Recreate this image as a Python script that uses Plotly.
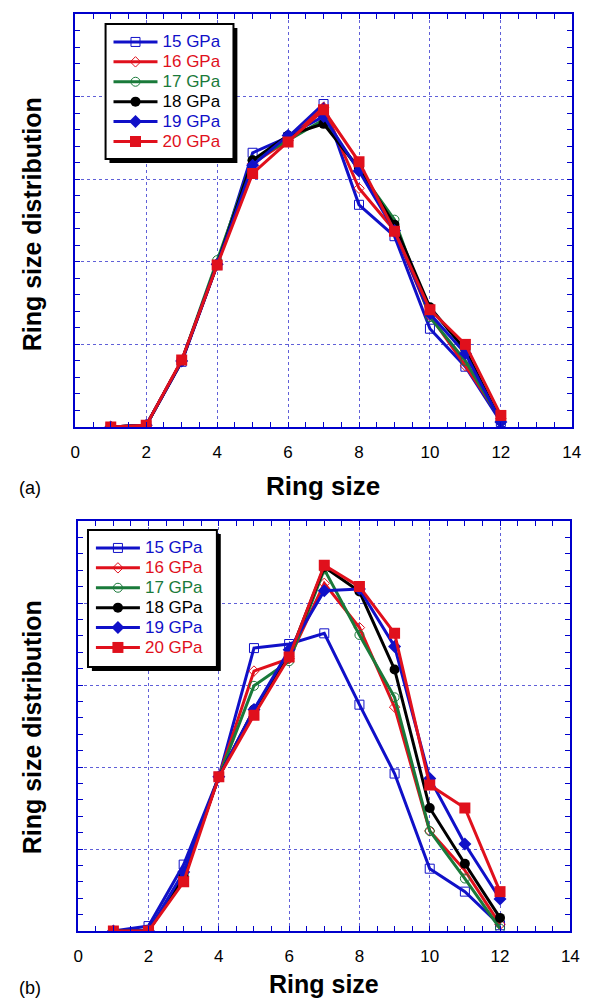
import plotly.graph_objects as go

ring_size = [1, 2, 3, 4, 5, 6, 7, 8, 9, 10, 11, 12]
series_names = ["15 GPa", "16 GPa", "17 GPa", "18 GPa", "19 GPa", "20 GPa"]

# Panel (a)
a_15 = [0.0, 0.02, 0.79, 1.96, 3.32, 3.51, 3.91, 2.69, 2.31, 1.19, 0.73, 0.06]
a_16 = [0.0, 0.02, 0.80, 1.97, 3.19, 3.47, 3.87, 2.89, 2.38, 1.35, 0.74, 0.10]
a_17 = [0.0, 0.02, 0.80, 2.02, 3.23, 3.47, 3.72, 3.11, 2.51, 1.33, 0.80, 0.08]
a_18 = [0.0, 0.02, 0.80, 1.97, 3.23, 3.53, 3.67, 3.13, 2.45, 1.45, 0.93, 0.07]
a_19 = [0.0, 0.02, 0.80, 1.97, 3.17, 3.53, 3.76, 3.10, 2.38, 1.37, 0.89, 0.06]
a_20 = [0.0, 0.02, 0.81, 1.96, 3.07, 3.45, 3.84, 3.21, 2.37, 1.42, 1.00, 0.14]

# Panel (b)
b_15 = [0.0, 0.06, 0.81, 1.88, 3.45, 3.50, 3.63, 2.76, 1.92, 0.76, 0.48, 0.07]
b_16 = [0.0, 0.0, 0.66, 1.88, 3.17, 3.32, 4.24, 3.70, 2.73, 1.22, 0.74, 0.08]
b_17 = [0.0, 0.0, 0.70, 1.88, 2.99, 3.29, 4.41, 3.61, 2.85, 1.22, 0.64, 0.03]
b_18 = [0.0, 0.0, 0.66, 1.88, 2.70, 3.35, 4.44, 4.14, 3.19, 1.50, 0.82, 0.16]
b_19 = [0.0, 0.0, 0.72, 1.88, 2.70, 3.43, 4.15, 4.17, 3.47, 1.86, 1.06, 0.39]
b_20 = [0.0, 0.0, 0.60, 1.88, 2.63, 3.34, 4.46, 4.20, 3.63, 1.78, 1.50, 0.48]

x_ticks = [0, 2, 4, 6, 8, 10, 12, 14]

BLUE = "#1010c8"
RED = "#e0101c"
GREEN = "#1a7a3a"
BLACK = "#000000"
AXIS_BLUE = "#0000cc"
GRID_BLUE = "#6060d8"
FONT = "Liberation Sans, Arial, sans-serif"

styles = [
    dict(color=BLUE, symbol="square-open", size=9, mlw=1),
    dict(color=RED, symbol="diamond-open", size=8, mlw=1),
    dict(color=GREEN, symbol="circle-open", size=9, mlw=1),
    dict(color=BLACK, symbol="circle", size=10, mlw=0),
    dict(color=BLUE, symbol="diamond", size=10, mlw=0),
    dict(color=RED, symbol="square", size=11, mlw=0),
]

W, H = 593, 998


def px(x):
    return x / W


def py(y):
    return 1 - y / H


fig = go.Figure()

panels = [
    ([a_15, a_16, a_17, a_18, a_19, a_20], "x", "y", "legend"),
    ([b_15, b_16, b_17, b_18, b_19, b_20], "x2", "y2", "legend2"),
]

for data, xa, ya, leg in panels:
    for name, vals, st in zip(series_names, data, styles):
        fig.add_trace(go.Scatter(
            x=ring_size, y=vals, mode="lines+markers",
            name=f'<span style="color:{st["color"]};font-size:17px">{name}</span>',
            line=dict(color=st["color"], width=3),
            marker=dict(symbol=st["symbol"], size=st["size"], color=st["color"],
                        line=dict(color=st["color"], width=st["mlw"])),
            xaxis=xa, yaxis=ya, legend=leg, showlegend=True,
        ))

xcommon = dict(
    range=[0, 14], tickvals=x_ticks, ticktext=[str(v) for v in x_ticks],
    showline=True, linecolor=AXIS_BLUE, linewidth=2, mirror="ticks",
    ticks="inside", ticklen=5, tickcolor=AXIS_BLUE, tickwidth=1,
    minor=dict(dtick=0.5, ticks="inside", ticklen=5, tickcolor=AXIS_BLUE, showgrid=False),
    showgrid=True, gridcolor=GRID_BLUE, griddash="dot", gridwidth=1,
    zeroline=False, tickfont=dict(family=FONT, size=17, color="black"),
    ticklabelstandoff=9, fixedrange=True,
)
ycommon = dict(
    range=[0, 5], dtick=1, tick0=0, showticklabels=False,
    showline=True, linecolor=AXIS_BLUE, linewidth=2, mirror="ticks",
    ticks="inside", ticklen=5, tickcolor=AXIS_BLUE, tickwidth=1,
    minor=dict(dtick=0.2, ticks="inside", ticklen=5, tickcolor=AXIS_BLUE, showgrid=False),
    showgrid=True, gridcolor=GRID_BLUE, griddash="dot", gridwidth=1,
    zeroline=False, fixedrange=True,
)

legend_common = dict(xanchor="left", yanchor="top", bgcolor="rgba(0,0,0,0)", borderwidth=0,
                     font=dict(family=FONT, size=13), tracegroupgap=0, itemwidth=44,
                     itemclick=False, itemdoubleclick=False)

fig.update_layout(
    width=W, height=H, autosize=False,
    margin=dict(l=0, r=0, t=0, b=0),
    paper_bgcolor="white", plot_bgcolor="white",
    xaxis=dict(domain=[px(72), px(580.5)], anchor="y", **xcommon),
    yaxis=dict(domain=[py(427), py(14)], anchor="x", **ycommon),
    xaxis2=dict(domain=[px(75), px(579)], anchor="y2", **xcommon),
    yaxis2=dict(domain=[py(931), py(521)], anchor="x2", **ycommon),
    legend=dict(x=px(106), y=py(27), **legend_common),
    legend2=dict(x=px(88), y=py(533), **legend_common),
    showlegend=True,
)

shapes = []
for (x0, y0, x1, y1) in [(103, 24, 234, 159), (85, 530, 217, 667)]:
    shapes.append(dict(type="rect", xref="paper", yref="paper",
                       x0=px(x0 + 4), x1=px(x1 + 4), y0=py(y0 + 4), y1=py(y1 + 4),
                       fillcolor="black", line=dict(width=0), layer="above"))
    shapes.append(dict(type="rect", xref="paper", yref="paper",
                       x0=px(x0), x1=px(x1), y0=py(y0), y1=py(y1),
                       fillcolor="white", line=dict(color="black", width=2), layer="above"))
fig.update_layout(shapes=shapes)


def ann(text, x, y, size, angle=0):
    return dict(text=text, x=px(x), y=py(y), xref="paper", yref="paper",
                xanchor="center", yanchor="middle", showarrow=False, textangle=angle,
                font=dict(family=FONT, size=size, color="black"))


annotations = [
    ann("<b>Ring size</b>", 326, 486, 26),
    ann("<b>Ring size</b>", 327, 984, 25),
    ann("<b>Ring size distribution</b>", 28, 224, 25, -90),
    ann("<b>Ring size distribution</b>", 28, 727, 25, -90),
    ann("(a)", 26, 488, 18),
    ann("(b)", 26, 988, 18),
]
fig.update_layout(annotations=annotations)

fig.write_html("out.html", include_plotlyjs=True, config={"displayModeBar": False},
               post_script="document.body.style.margin='0';document.body.style.overflow='hidden';")
